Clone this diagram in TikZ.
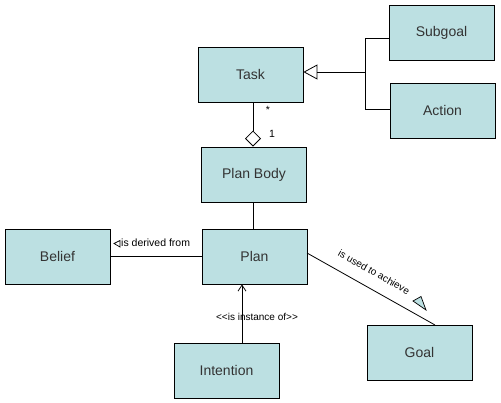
\documentclass[tikz,border=0pt]{standalone}
\usepackage{fontspec}
\setmainfont{Liberation Sans}
\usetikzlibrary{arrows.meta,calc}
\definecolor{boxfill}{RGB}{188,224,226}
\begin{document}
\begin{tikzpicture}[x=1pt,y=-1pt,
  cls/.style={draw=black, line width=0.8pt, fill=boxfill, minimum width=105pt, minimum height=55pt, inner sep=0pt, font=\fontsize{14}{16}\selectfont, text=black!80},
  conn/.style={draw=black, line width=0.8pt},
  lbl/.style={font=\fontsize{10.5}{12}\selectfont, inner sep=0pt}]
\useasboundingbox (0,0) rectangle (501,402);
\node[cls] (Task) at (250.5,74.5) {Task};
\node[cls] (Subgoal) at (441.5,33) {Subgoal};
\node[cls] (Action) at (442.5,110.5) {Action};
\node[cls] (PlanBody) at (254,174.5) {Plan Body};
\node[cls] (Plan) at (254.5,256.5) {Plan};
\node[cls] (Belief) at (57.5,256.5) {Belief};
\node[cls] (Goal) at (419.5,352.5) {Goal};
\node[cls] (Intention) at (226.5,370.5) {Intention};
% generalization
\coordinate (jt) at (365,38);
\coordinate (jm) at (365,72);
\coordinate (jb) at (365,109);
\draw[conn] (Subgoal.west |- jt) -- (jt) -- (jb) -- (Action.west |- jb);
\draw[conn, -{Triangle[open, width=15pt, length=14pt]}] (jm) -- (Task.east |- jm);
% aggregation
\draw[conn, -{Diamond[open, width=16pt, length=16pt]}] (Task.south -| 253,0) -- (PlanBody.north -| 253,0);
\node[lbl] (star) at (268,110) {*};
\node[lbl] (one) at (272,134) {1};
% plan body - plan
\draw[conn] (PlanBody.south -| 253,0) -- (Plan.north -| 253,0);
% belief - plan
\draw[conn] (Belief.east |- 0,256) -- (Plan.west |- 0,256);
\node[lbl, anchor=west] (derived) at (121,243) {is derived from};
\draw[line width=0.7pt] (114,243.5) -- (120,240.5) -- (120,247) -- cycle;
% plan - goal
\coordinate (pg1) at (307,253);
\coordinate (pg2) at (435,325);
\draw[conn] (pg1) -- (pg2);
\node[lbl, font=\fontsize{10}{12}\selectfont, rotate=-29.4] (achieve) at (374,272) {is used to achieve};
\draw[line width=0.7pt, fill=boxfill] (413,301) -- (421,296.5) -- (426,310) -- cycle;
% intention - plan
\draw[conn, -{Straight Barb[width=8pt, length=6pt]}] (Intention.north -| 242,0) -- (Plan.south -| 242,0);
\node[lbl, font=\fontsize{10}{12}\selectfont] (inst) at (257,317) {{<}{<}is instance of{>}{>}};
\end{tikzpicture}
\end{document}
